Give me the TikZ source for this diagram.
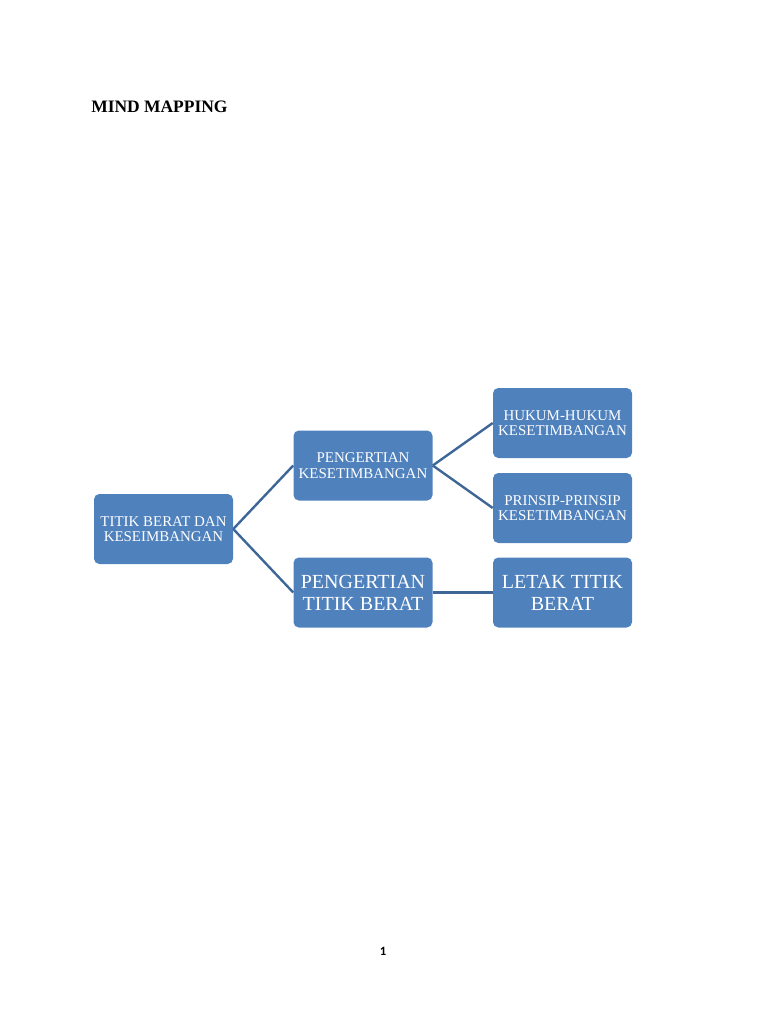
\documentclass[tikz,border=0pt]{standalone}
\usepackage{fontspec}
\setmainfont{Liberation Serif}
\newfontfamily\pagefont{Carlito}
\definecolor{boxblue}{HTML}{4F81BD}
\definecolor{linkblue}{HTML}{3E6797}
\begin{document}
\begin{tikzpicture}[x=0.75pt,y=-0.75pt,
  mbox/.style={draw=none,fill=boxblue,rounded corners=4pt,minimum width=104.25pt,minimum height=52.5pt,text=white,align=center,inner sep=1pt},
  small/.style={font=\fontsize{11.2}{11.5}\selectfont},
  big/.style={font=\fontsize{15}{16.5}\selectfont},
  link/.style={draw=linkblue,line width=1.8pt}]
\useasboundingbox (0,0) rectangle (768,1024);
\node[anchor=base west,inner sep=0pt,font=\bfseries\fontsize{13.1}{15}\selectfont] (title) at (91,113) {MIND MAPPING};
\node[mbox,small] (root) at (163.5,529) {TITIK BERAT DAN\\KESEIMBANGAN};
\node[mbox,small] (pk) at (363,465.5) {PENGERTIAN\\KESETIMBANGAN};
\node[mbox,big] (ptb) at (363,592.5) {PENGERTIAN\\TITIK BERAT};
\node[mbox,small] (hh) at (562.5,423) {HUKUM-HUKUM\\KESETIMBANGAN};
\node[mbox,small] (pp) at (562.5,508) {PRINSIP-PRINSIP\\KESETIMBANGAN};
\node[mbox,big] (ltt) at (562.5,592.5) {LETAK TITIK\\BERAT};
\draw[link] (root.east) -- (pk.west);
\draw[link] (root.east) -- (ptb.west);
\draw[link] (pk.east) -- (hh.west);
\draw[link] (pk.east) -- (pp.west);
\draw[link] (ptb.east) -- (ltt.west);
\node[anchor=base,font=\pagefont\bfseries\fontsize{9.5}{10}\selectfont] (pg) at (383,955) {1};
\end{tikzpicture}
\end{document}
